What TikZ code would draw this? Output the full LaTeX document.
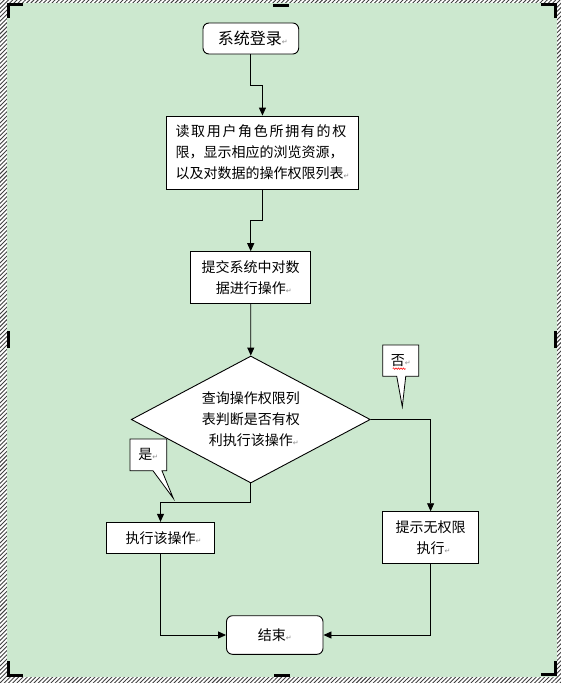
\documentclass[tikz,border=0pt]{standalone}
\usepackage{fontspec}
\setmainfont{Noto Sans CJK SC}
\newfontfamily\dejavu{DejaVu Sans}
\usetikzlibrary{arrows.meta,shapes.geometric,shapes.callouts,patterns.meta,decorations.pathmorphing}
\definecolor{eyegreen}{RGB}{204,232,207}
\newcommand\retmark{{\dejavu\fontsize{7}{7}\selectfont\textcolor{black!45}{↵}}}
\tikzset{
  base/.style={draw=black, line width=0.9pt, fill=white, inner sep=0pt,
    font=\fontsize{14}{21}\selectfont, align=center},
  procbox/.style={base, rectangle},
  termbox/.style={base, rectangle, rounded corners=6pt},
  decbox/.style={base, diamond},
  note/.style={rectangle callout, draw=black, line width=0.8pt, fill=white,
    inner sep=0pt, callout pointer width=9pt, font=\fontsize{14}{21}\selectfont},
  arr/.style={draw=black, line width=0.9pt, -{Triangle[length=8pt,width=7pt]}},
  cropmark/.style={fill=black}
}
\begin{document}
\begin{tikzpicture}[x=1pt,y=-1pt]
\useasboundingbox (0,0) rectangle (561,683);
% frame with hatching
\fill[white] (0,0) rectangle (561,683);
\fill[pattern={Lines[angle=45,distance=3pt,line width=0.9pt]}, pattern color=black!75]
  (0,0) rectangle (561,683);
\fill[eyegreen] (6.5,3) rectangle (557,676.5);
% corner and middle marks
\fill[cropmark] (6.7,2.7) rectangle (22.7,5.7);
\fill[cropmark] (6.7,2.7) rectangle (9.7,18.3);
\fill[cropmark] (541,2.7) rectangle (556.7,5.7);
\fill[cropmark] (553.7,2.7) rectangle (556.7,18.3);
\fill[cropmark] (6.7,673.5) rectangle (22.7,676.5);
\fill[cropmark] (6.7,661) rectangle (9.7,676.5);
\fill[cropmark] (541,673.3) rectangle (556.7,676.3);
\fill[cropmark] (553.7,661) rectangle (556.7,676.3);
\fill[cropmark] (273,3.5) rectangle (289,6.5);
\fill[cropmark] (274,673.5) rectangle (290,676.5);
\fill[cropmark] (7,331) rectangle (10,348);
\fill[cropmark] (553.5,331) rectangle (556.5,348);

% nodes
\node[termbox, minimum width=95.7pt, minimum height=31pt, font=\fontsize{16}{20}\selectfont] (login) at (250.85,38.5) {\hspace{4pt}系统登录\retmark};
\node[procbox, minimum width=192pt, minimum height=73pt, align=left] (read) at (262.45,152.5)
  {{\addfontfeature{LetterSpace=12}读取用户角色所拥有的权}\\限，显示相应的浏览资源，\\以及对数据的操作权限列表\retmark};
\node[procbox, minimum width=120pt, minimum height=51.3pt] (submit) at (250.7,277.3)
  {提交系统中对数\\\hspace{6pt}据进行操作\retmark};
\node[decbox, minimum width=239pt, minimum height=127pt, shape aspect=1.88] (dec) at (250.8,419.5)
  {查询操作权限列\\表判断是否有权\\\hspace{6pt}利执行该操作\retmark};
\node[procbox, minimum width=108.4pt, minimum height=31pt] (exec) at (160.5,537.8)
  {\hspace{6pt}执行该操作\retmark};
\node[procbox, minimum width=96.2pt, minimum height=51.6pt] (deny) at (430.6,537.5)
  {提示无权限\\\hspace{6pt}执行\retmark};
\node[termbox, minimum width=96.5pt, minimum height=38.6pt] (end) at (274.75,635)
  {结束\retmark};

% callouts
\node[note, minimum width=36.7pt, minimum height=31.7pt,
  callout absolute pointer={(173.3,498.3)}] (yes) at (148.35,454.85) {\raisebox{-2pt}{是\retmark}};
\node[note, minimum width=36pt, minimum height=31.3pt,
  callout absolute pointer={(402.3,406.7)}] (no) at (400.7,360.65) {\raisebox{-2pt}{否\retmark}};
\draw[red, line width=0.5pt, decorate, decoration={snake, amplitude=0.8pt, segment length=2.5pt}]
  ([xshift=-8pt,yshift=-8pt]no.center) -- ([xshift=5pt,yshift=-8pt]no.center);

% connectors
\coordinate (j1) at (250.85,85);
\coordinate (j2) at (262.45,220);
\coordinate (j3) at (250.8,502.3);
\draw[arr] (login.south) -- (j1) -| (read.north);
\draw[arr] (read.south) -- (j2) -| (submit.north);
\draw[arr] (submit.south) -- (dec.north);
\draw[arr] (dec.east) -| (deny.north);
\draw[arr] (dec.south) -- (j3) -| (exec.north);
\draw[arr] (exec.south) |- (end.west);
\draw[arr] (deny.south) |- (end.east);
\end{tikzpicture}
\end{document}
